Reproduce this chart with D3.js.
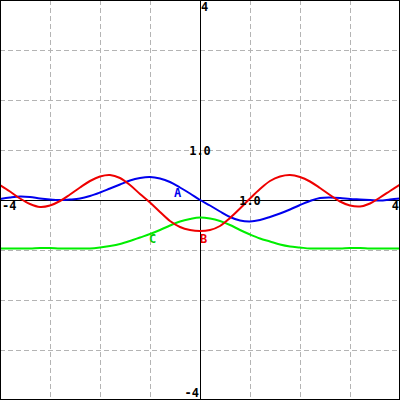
<!doctype html>
<html>
<head>
<style>
  body { margin: 0; }
  text { font-family: "DejaVu Sans Mono", monospace; font-weight: bold; font-size: 12px; }
  .grid line { stroke: #b4b4b4; stroke-dasharray: 5,3; shape-rendering: crispEdges; }
  .curve { fill: none; stroke-width: 2; }
</style>
<script src="https://d3js.org/d3.v7.min.js"></script>
</head>
<body>
<svg width="400" height="400"></svg>
<script>

var xs = [-4.0,-3.8,-3.6,-3.4,-3.2,-3.0,-2.8,-2.6,-2.4,-2.2,-2.0,-1.8,-1.6,-1.4,-1.2,-1.0,-0.8,-0.6,-0.4,-0.2,
          0.0,0.2,0.4,0.6,0.8,1.0,1.2,1.4,1.6,1.8,2.0,2.2,2.4,2.6,2.8,3.0,3.2,3.4,3.6,3.8,4.0];

var seriesA = [0.02,0.05,0.07,0.06,0.03,0.01,0.00,0.01,0.03,0.08,0.15,0.23,0.31,0.39,0.44,0.46,0.43,0.36,0.25,0.13,
               0.00,-0.11,-0.23,-0.34,-0.41,-0.43,-0.40,-0.34,-0.27,-0.19,-0.10,-0.02,0.04,0.05,0.04,0.02,0.01,0.00,-0.01,0.01,0.03];

var seriesB = [0.30,0.17,0.03,-0.08,-0.14,-0.11,-0.02,0.11,0.25,0.38,0.47,0.50,0.44,0.30,0.12,-0.05,-0.24,-0.42,-0.54,-0.60,
               -0.62,-0.60,-0.52,-0.36,-0.17,0.03,0.22,0.38,0.47,0.50,0.46,0.37,0.24,0.10,-0.03,-0.11,-0.13,-0.07,0.05,0.18,0.31];

var seriesC = [-0.97,-0.97,-0.97,-0.97,-0.96,-0.96,-0.97,-0.97,-0.97,-0.97,-0.95,-0.92,-0.88,-0.82,-0.75,-0.68,-0.60,-0.51,-0.43,-0.38,
               -0.35,-0.37,-0.42,-0.50,-0.60,-0.69,-0.77,-0.83,-0.89,-0.93,-0.95,-0.97,-0.97,-0.97,-0.97,-0.96,-0.96,-0.97,-0.97,-0.97,-0.97];

var gridTicks = [-3,-2,-1,1,2,3];

var svg = d3.select("svg"),
    width = 400,
    height = 400;

var xScale = d3.scaleLinear().domain([-4, 4]).range([0, width]),
    yScale = d3.scaleLinear().domain([-4, 4]).range([height, 0]);

svg.append("rect")
   .attr("width", width).attr("height", height)
   .attr("fill", "white");

// dashed grid
var grid = svg.append("g").attr("class", "grid");
grid.selectAll(".vx").data(gridTicks).enter()
    .append("line")
    .attr("x1", function(d) { return Math.round(xScale(d)) + 0.5; })
    .attr("x2", function(d) { return Math.round(xScale(d)) + 0.5; })
    .attr("y1", 0).attr("y2", height);
grid.selectAll(".hy").data(gridTicks).enter()
    .append("line")
    .attr("y1", function(d) { return Math.round(yScale(d)) + 0.5; })
    .attr("y2", function(d) { return Math.round(yScale(d)) + 0.5; })
    .attr("x1", 0).attr("x2", width);

// axes
svg.append("line")
   .attr("x1", 0).attr("x2", width)
   .attr("y1", yScale(0) + 0.5).attr("y2", yScale(0) + 0.5)
   .attr("stroke", "black");
svg.append("line")
   .attr("x1", xScale(0) + 0.5).attr("x2", xScale(0) + 0.5)
   .attr("y1", 0).attr("y2", height)
   .attr("stroke", "black");

// curves
var line = d3.line()
    .x(function(d) { return xScale(d[0]); })
    .y(function(d) { return yScale(d[1]); })
    .curve(d3.curveCatmullRom);

var curves = [
  { name: "C", values: seriesC, color: "#00ee00" },
  { name: "A", values: seriesA, color: "#0000ee" },
  { name: "B", values: seriesB, color: "#ee0000" }
];

curves.forEach(function(c) {
  svg.append("path")
     .datum(xs.map(function(x, i) { return [x, c.values[i]]; }))
     .attr("class", "curve")
     .attr("stroke", c.color)
     .attr("d", line);
});

// curve labels
svg.append("text").attr("x", 174).attr("y", 197).attr("fill", "#0000ee").text("A");
svg.append("text").attr("x", 200).attr("y", 243).attr("fill", "#ee0000").text("B");
svg.append("text").attr("x", 149).attr("y", 243).attr("fill", "#00cc00").text("C");

// axis labels
svg.append("text").attr("x", 201).attr("y", 11).text("4");
svg.append("text").attr("x", 199).attr("y", 397).attr("text-anchor", "end").text("-4");
svg.append("text").attr("x", 2).attr("y", 210).text("-4");
svg.append("text").attr("x", 399).attr("y", 210).attr("text-anchor", "end").text("4");
svg.append("text").attr("x", 200).attr("y", 155).attr("text-anchor", "middle").text("1.0");
svg.append("text").attr("x", 250).attr("y", 205).attr("text-anchor", "middle").text("1.0");

// frame
svg.append("rect")
   .attr("x", 0.5).attr("y", 0.5)
   .attr("width", width - 1).attr("height", height - 1)
   .attr("fill", "none").attr("stroke", "black");

</script>
</body>
</html>
